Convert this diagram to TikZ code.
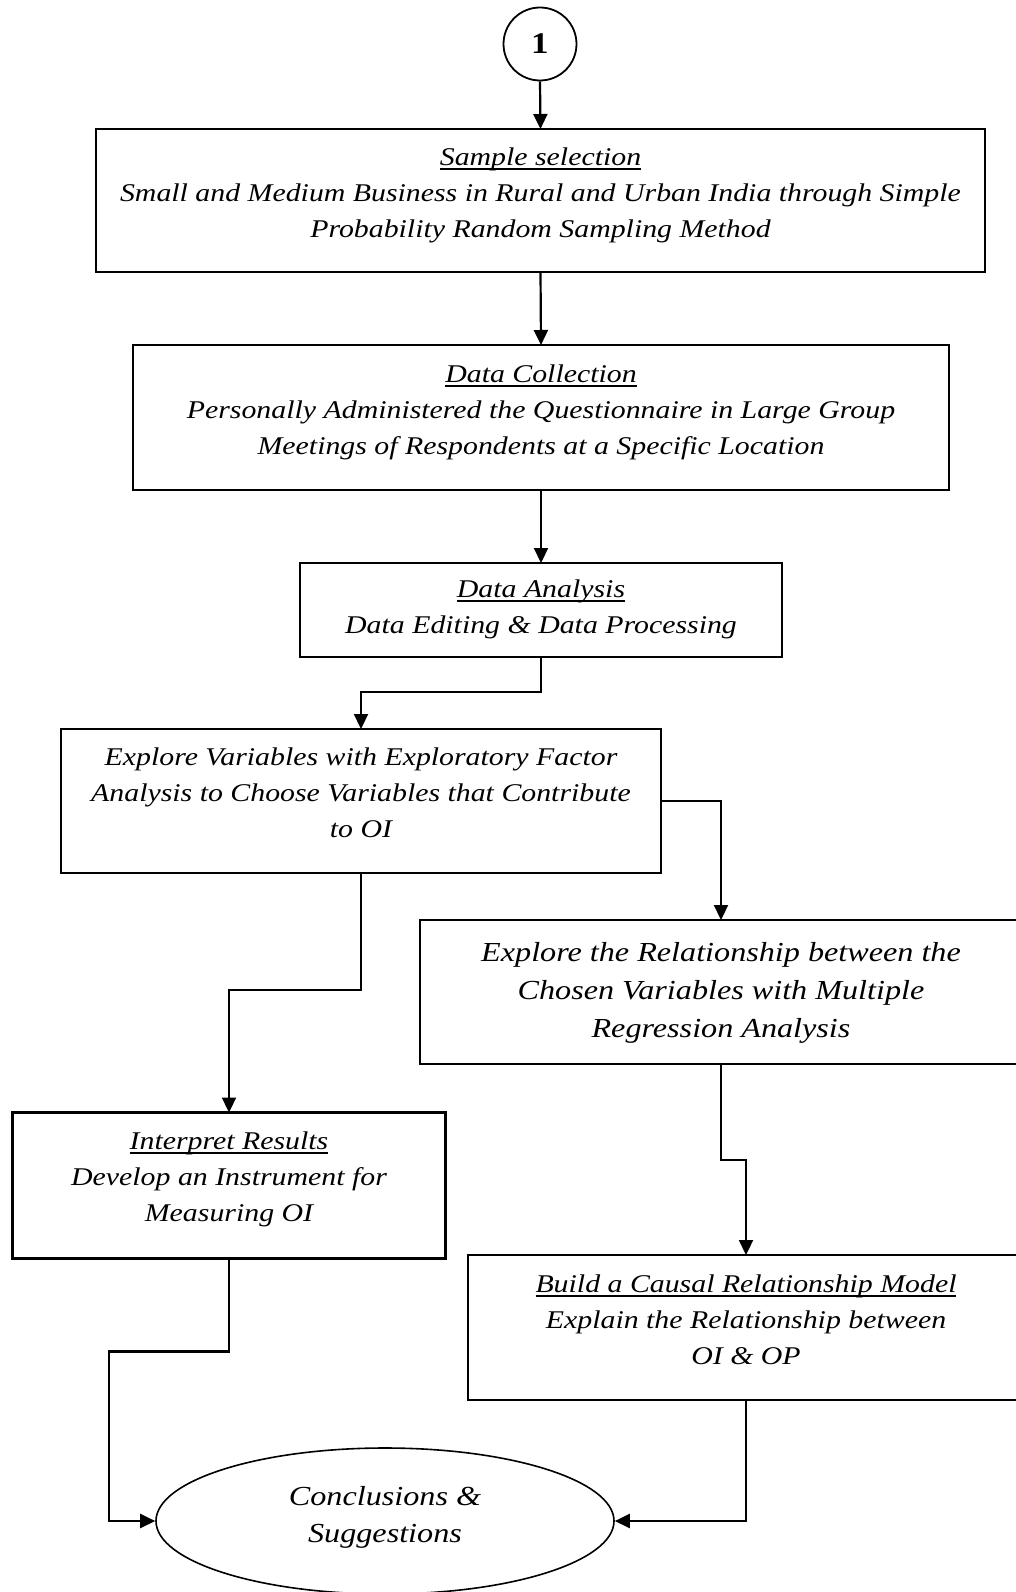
\documentclass[tikz,border=0pt]{standalone}
\usepackage{fontspec}
\setmainfont{Liberation Serif}[FakeStretch=1.17]
\usetikzlibrary{arrows.meta,shapes.geometric}
\newcommand{\myul}[1]{\setbox0=\hbox{#1}\rlap{\rule[-5pt]{\wd0}{1.8pt}}\box0}
\begin{document}
\begin{tikzpicture}[x=1pt,y=-1pt,
  box/.style={draw,line width=2.5pt,inner sep=0pt,outer sep=0pt},
  txt/.style={align=center,anchor=base,inner sep=0pt,font=\fontsize{25.5}{36}\selectfont\itshape},
  bigtxt/.style={align=center,anchor=base,inner sep=0pt,font=\fontsize{27.5}{38}\selectfont\itshape},
  eltxt/.style={align=center,anchor=base,inner sep=0pt,font=\fontsize{27.5}{37}\selectfont\itshape},
  arr/.style={line width=2.2pt,-{Triangle[length=15pt,width=14pt]}}]
\useasboundingbox (0,0) rectangle (1016,1592);
\clip (0,0) rectangle (1016,1592);
% start circle
\node[circle,draw,line width=1.8pt,minimum size=73pt,inner sep=0pt,font=\fontsize{30}{34}\selectfont\bfseries] (c1) at (540,44) {1};
% boxes
\node[box,minimum width=889pt,minimum height=143pt] (b1) at (540.5,200.5) {};
\node[txt] (t1) at (540.5,237) {\myul{Sample selection}\\Small and Medium Business in Rural and Urban India through Simple\\Probability Random Sampling Method};
\node[box,minimum width=816pt,minimum height=145pt] (b2) at (541,417.5) {};
\node[txt] (t2) at (541,454) {\myul{Data Collection}\\Personally Administered the Questionnaire in Large Group\\Meetings of Respondents at a Specific Location};
\node[box,minimum width=482pt,minimum height=94pt] (b3) at (541,610) {};
\node[txt] (t3) at (541,633) {\myul{Data Analysis}\\Data Editing \& Data Processing};
\node[box,minimum width=600pt,minimum height=144pt] (b4) at (361,801) {};
\node[txt] (t4) at (361,837) {Explore Variables with Exploratory Factor\\Analysis to Choose Variables that Contribute\\to OI};
\node[box,minimum width=602pt,minimum height=144pt] (b5) at (721,992) {};
\node[bigtxt] (t5) at (721,1037) {Explore the Relationship between the\\Chosen Variables with Multiple\\Regression Analysis};
\node[box,minimum width=433pt,minimum height=146pt] (b6) at (229,1185.5) {};
\node[txt] (t6) at (229,1221) {\myul{Interpret Results}\\Develop an Instrument for\\Measuring OI};
\node[box,minimum width=556pt,minimum height=145pt] (b7) at (746,1327.5) {};
\node[txt] (t7) at (746,1364) {\myul{Build a Causal Relationship Model}\\Explain the Relationship between\\OI \& OP};
\node[ellipse,draw,line width=1.6pt,minimum width=458pt,minimum height=146pt,inner sep=0pt] (el) at (385,1521) {};
\node[eltxt] (te) at (385,1542) {Conclusions \&\\Suggestions};
% connectors
\coordinate (j1) at (109,1521);
\draw[arr] (c1.south) -- (b1.north);
\draw[arr] (b1.south) -- (b2.north);
\draw[arr] (b2.south) -- (b3.north);
\draw[arr] (b3.south) -- ++(0,35) -| (b4.north);
\draw[arr] (b4.east) -| (b5.north);
\draw[arr] (b4.south) -- ++(0,117) -| (b6.north);
\draw[arr] (b5.south) -- ++(0,96) -| (b7.north);
\draw[arr] (b6.south) -- ++(0,93) -| (j1) -- (el.west);
\draw[arr] (b7.south) |- (el.east);
\end{tikzpicture}
\end{document}
